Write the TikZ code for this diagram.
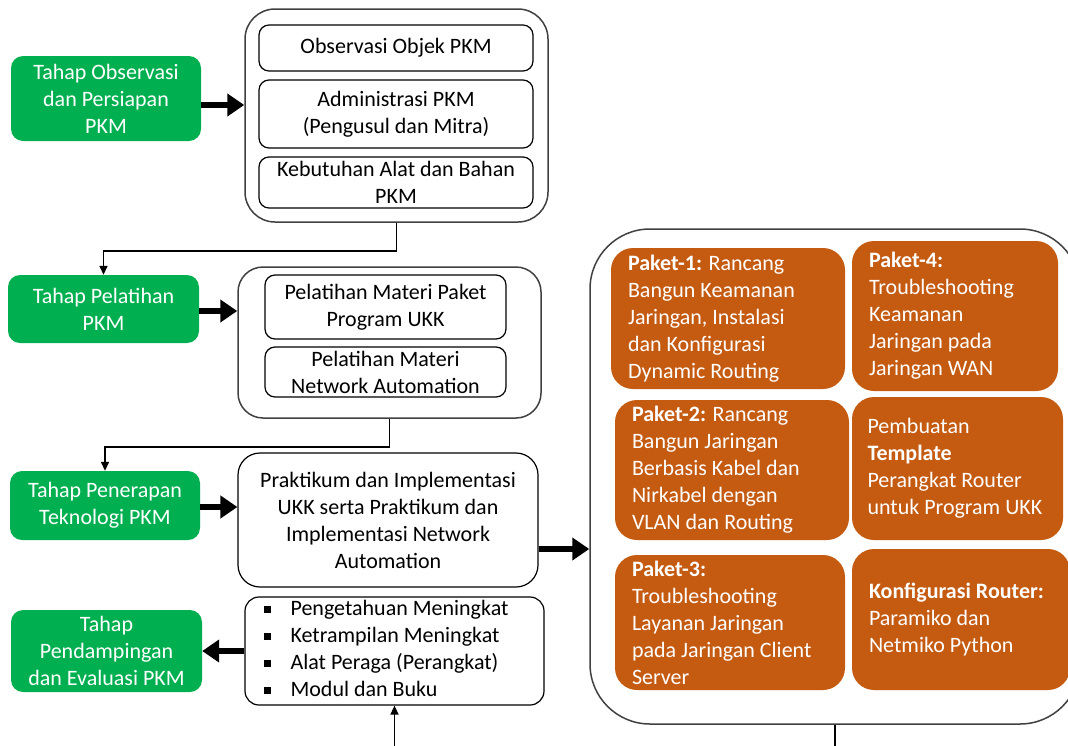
\documentclass[tikz,border=0pt]{standalone}
\usepackage{fontspec}
\setmainfont{Carlito}
\usetikzlibrary{arrows.meta}
\definecolor{pkmgreen}{HTML}{00B050}
\definecolor{pkmorange}{HTML}{C55A11}
\definecolor{pkmgray}{HTML}{404040}
\newcommand{\kotak}{\rule[3pt]{7pt}{7pt}}

\begin{document}
\begin{tikzpicture}[x=1pt,y=-1pt,
    font=\fontsize{22}{27}\selectfont,
    tahap/.style={rectangle,rounded corners=12,fill=pkmgreen,text=white,align=center,inner sep=0},
    wadah/.style={rectangle,draw=pkmgray,line width=1.5,inner sep=0},
    isi/.style={rectangle,rounded corners=10,draw,line width=1.2,align=center,inner sep=0},
    paket/.style={rectangle,rounded corners=22,fill=pkmorange,text=white,align=flush left,inner xsep=17,inner ysep=0},
    tebal/.style={line width=6,-{Triangle[length=17pt,width=22pt]}},
    tipis/.style={line width=1.5,-{Triangle[length=9pt,width=8pt]}}]
  \clip (0,0) rectangle (1068,745);
  \useasboundingbox (0,0) rectangle (1068,745);

  % tahap observasi
  \node[tahap,minimum width=190,minimum height=85] (obs) at (106,98.5) {Tahap Observasi\\dan Persiapan\\PKM};
  \node[wadah,rounded corners=30,minimum width=303,minimum height=213] (obsbox) at (396.5,115.5) {};
  \node[isi,minimum width=274,minimum height=46] (obs1) at (396,48) {Observasi Objek PKM};
  \node[isi,minimum width=274,minimum height=68] (obs2) at (396,114) {Administrasi PKM\\(Pengusul dan Mitra)};
  \node[isi,minimum width=274,minimum height=51] (obs3) at (396,182.5) {Kebutuhan Alat dan Bahan\\PKM};

  % tahap pelatihan
  \node[tahap,minimum width=191,minimum height=68] (pel) at (103.5,309) {Tahap Pelatihan\\PKM};
  \node[wadah,rounded corners=25,minimum width=303,minimum height=151] (pelbox) at (389.5,342.5) {};
  \node[isi,minimum width=241,minimum height=64] (pel1) at (385.5,307) {Pelatihan Materi Paket\\Program UKK};
  \node[isi,minimum width=241,minimum height=50] (pel2) at (385.5,372) {Pelatihan Materi\\Network Automation};

  % tahap penerapan
  \node[tahap,minimum width=190,minimum height=69] (pen) at (105,505.5) {Tahap Penerapan\\Teknologi PKM};
  \node[isi,rounded corners=22,minimum width=300,minimum height=134] (prak) at (388,520)
    {Praktikum dan Implementasi\\UKK serta Praktikum dan\\Implementasi Network\\Automation};

  % tahap pendampingan
  \node[tahap,minimum width=191,minimum height=82] (pend) at (106.5,651) {Tahap\\Pendampingan\\dan Evaluasi PKM};
  \node[isi,rounded corners=14,minimum width=299,minimum height=108,align=left] (hasil) at (394.5,651)
    {\begin{tabular}{@{}l@{\hspace{20pt}}l@{}}
      \kotak & Pengetahuan Meningkat\\
      \kotak & Ketrampilan Meningkat\\
      \kotak & Alat Peraga (Perangkat)\\
      \kotak & Modul dan Buku
    \end{tabular}\hspace{17pt}};

  % paket
  \node[wadah,rounded corners=60,minimum width=490,minimum height=495] (kanan) at (835,476.5) {};
  \node[paket,text width=200,minimum height=141] (p1) at (728,318.5)
    {\textbf{Paket-1:} Rancang\\Bangun Keamanan\\Jaringan, Instalasi\\dan Konfigurasi\\Dynamic Routing};
  \node[paket,text width=172,minimum height=150] (p4) at (955,316)
    {\textbf{Paket-4:}\\Troubleshooting\\Keamanan\\Jaringan pada\\Jaringan WAN};
  \node[paket,text width=200,minimum height=140] (p2) at (732,470)
    {\textbf{Paket-2:} Rancang\\Bangun Jaringan\\Berbasis Kabel dan\\Nirkabel dengan\\VLAN dan Routing};
  \node[paket,text width=180,inner xsep=15.5,minimum height=143] (tmp) at (957.5,468.5)
    {Pembuatan\\\textbf{Template}\\Perangkat Router\\untuk Program UKK};
  \node[paket,text width=196,minimum height=135] (p3) at (730,622.5)
    {\textbf{Paket-3:}\\Troubleshooting\\Layanan Jaringan\\pada Jaringan Client\\Server};
  \node[paket,text width=184,minimum height=141] (konf) at (961,619.5)
    {\textbf{Konfigurasi Router:}\\Paramiko dan\\Netmiko Python};

  \coordinate (bawahkiri) at (394.5,760);
  \coordinate (bawahkanan) at (835,760);

  % panah
  \draw[tebal] ([yshift=-6.5pt]obs.east) -- ([yshift=-6.5pt]obs.east -| obsbox.west);
  \draw[tipis] (obsbox.south) -- ++(0,28) -| (pel.north);
  \draw[tebal] ([yshift=-2pt]pel.east) -- ([yshift=-2pt]pel.east -| pelbox.west);
  \draw[tipis] (pelbox.south) -- ++(0,28) -| (pen.north);
  \draw[tebal] ([yshift=-1.5pt]pen.east) -- ([yshift=-1.5pt]pen.east -| prak.west);
  \draw[tebal] ([yshift=-29pt]prak.east) -- ([yshift=-29pt]prak.east -| kanan.west);
  \draw[tebal] (hasil.west) -- (pend.east);
  \draw[tipis] (bawahkiri) -- (hasil.south);
  \draw[line width=1.5] (kanan.south) -- (bawahkanan);
\end{tikzpicture}
\end{document}
